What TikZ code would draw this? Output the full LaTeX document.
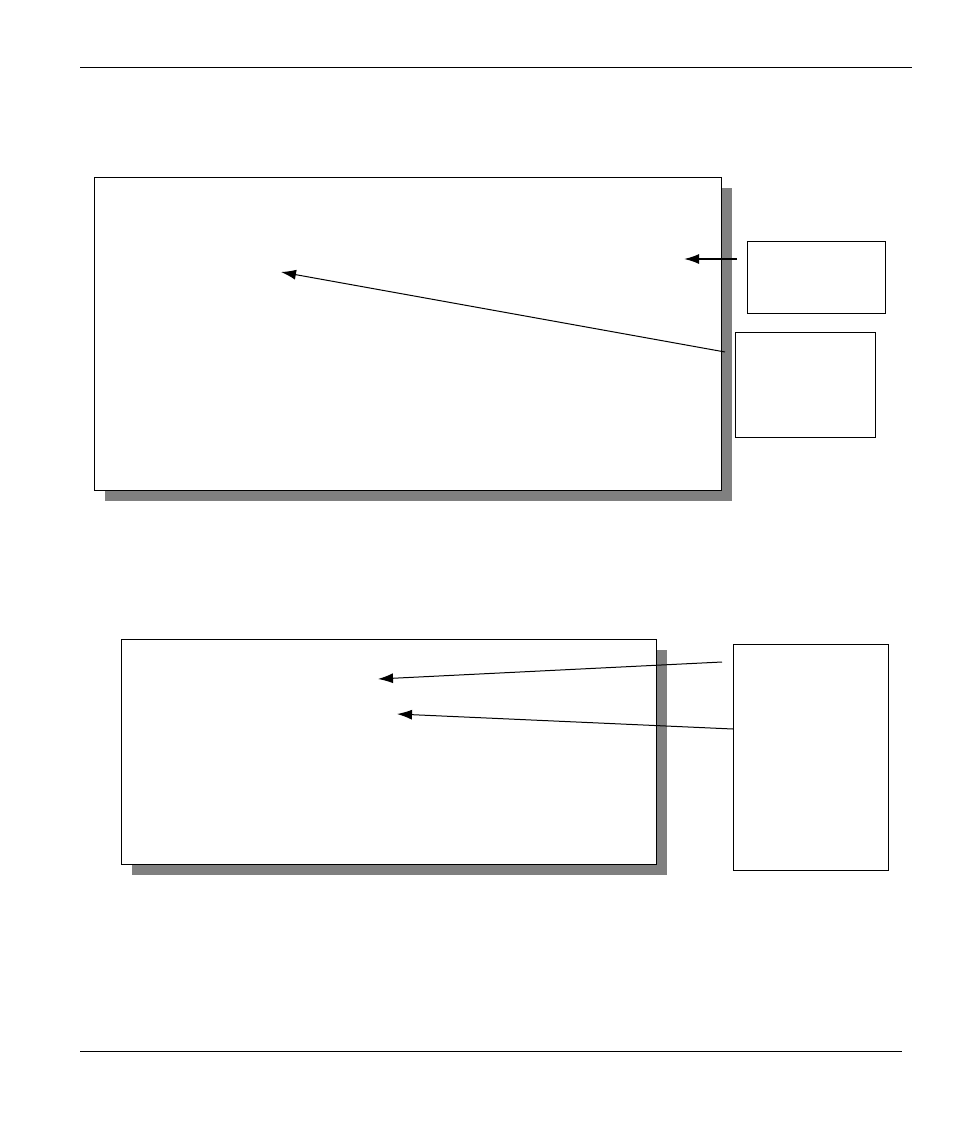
\documentclass[tikz,border=0pt]{standalone}
\usetikzlibrary{arrows.meta}

\tikzset{
  screen/.style={draw=black, line width=1.4pt, fill=white, anchor=north west, inner sep=0pt},
  shade box/.style={fill=black!50},
  callout/.style={draw=black, line width=1.2pt, fill=white, anchor=north west, inner sep=0pt},
  pointer/.style={-{Latex[length=15pt,width=10pt]}, line width=1pt},
}

\begin{document}
\begin{tikzpicture}[x=1pt, y=-1pt]
\useasboundingbox (0,0) rectangle (954,1132);

% page rules
\coordinate (headL) at (80,67);
\coordinate (headR) at (912,67);
\coordinate (footL) at (80,1051);
\coordinate (footR) at (902,1051);
\draw[line width=0.8pt] (headL) -- (headR);
\draw[line width=0.8pt] (footL) -- (footR);

% upper screen
\fill[shade box] (105,188) rectangle (732,501);
\node[screen, minimum width=627pt, minimum height=313pt] (scrA) at (94,177) {};

\node[callout, minimum width=138pt, minimum height=72pt] (noteA) at (747,241) {};
\node[callout, minimum width=140pt, minimum height=105pt] (noteB) at (735,332) {};

\coordinate (tailA) at (737,259);
\coordinate (tipA) at (684,259);
\coordinate (tailB) at (725,352);
\coordinate (tipB) at (281,272);

\draw[pointer, line width=1.6pt] (tailA) -- (tipA);
\draw[pointer] (tailB) -- (tipB);

% lower screen
\fill[shade box] (132,650) rectangle (667,875);
\node[screen, minimum width=535pt, minimum height=225pt] (scrB) at (121,639) {};

\node[callout, minimum width=155pt, minimum height=226pt] (noteC) at (733,644) {};

\coordinate (tailC) at (722,662);
\coordinate (tipC) at (378,679);
\coordinate (tipD) at (397,714);

\draw[pointer] (tailC) -- (tipC);
\draw[pointer] (noteC.west |- 0,729) -- (tipD);

\end{tikzpicture}
\end{document}
